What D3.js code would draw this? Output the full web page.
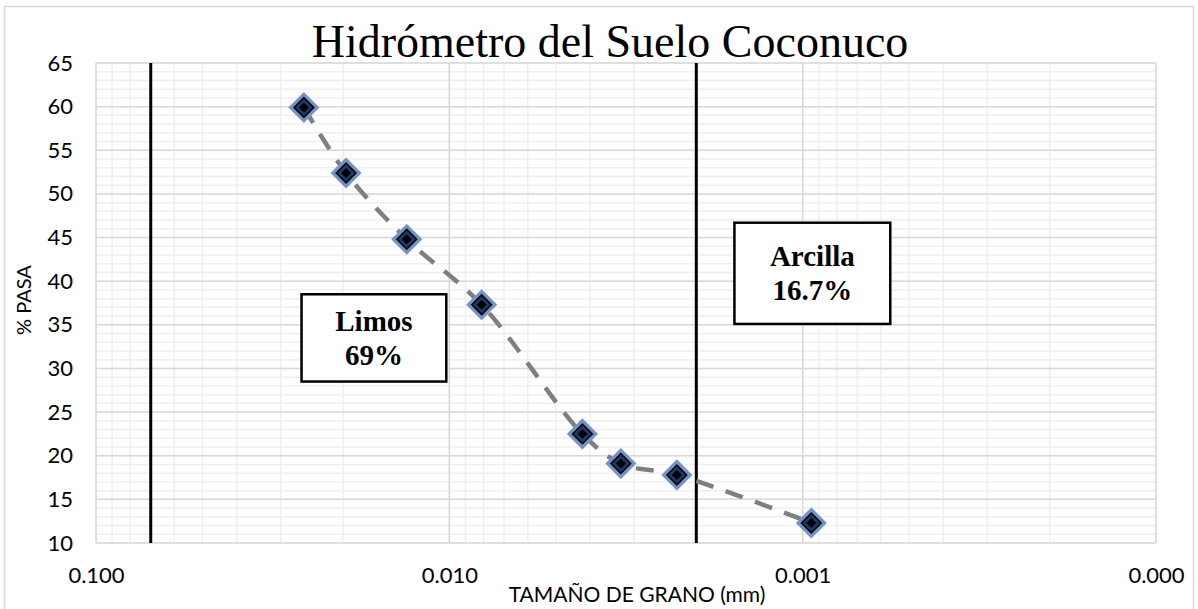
<!DOCTYPE html>
<html>
<head>
<meta charset="utf-8">
<script src="https://cdn.jsdelivr.net/npm/d3@7"></script>
<style>
  body { margin: 0; background: #fff; }
</style>
</head>
<body>
<script>
// grain size (mm) and percent passing
const grainSize = [0.0258, 0.0196, 0.0132, 0.0081, 0.0042, 0.00327, 0.00227, 0.000945];
const pctPassing = [59.9, 52.4, 44.8, 37.3, 22.5, 19.1, 17.8, 12.3];

const xTickValues = [0.1, 0.01, 0.001, 0.0001];
const yTickValues = [10, 15, 20, 25, 30, 35, 40, 45, 50, 55, 60, 65];

// limits between fractions (black vertical lines)
const limitSizes = [0.07, 0.002];

// text boxes: label lines, size span and % span
const boxLines = [["Limos", "69%"], ["Arcilla", "16.7%"]];
const boxSizeSpan = [[0.0262, 0.0102], [0.00156, 0.000565]];
const boxPctSpan = [[38.5, 28.5], [46.7, 35.1]];

function main(){
    const W = 1198, H = 609;
    const left = 96, right = 1156, top = 63, bottom = 543;

    const svg = d3.select("body").append("svg")
        .attr("width", W)
        .attr("height", H);

    // chart area frame
    svg.append("rect")
        .attr("x", 4.5).attr("y", 6.5)
        .attr("width", 1189).attr("height", 620)
        .attr("fill", "#fff")
        .attr("stroke", "#d9d9d9")
        .attr("stroke-width", 1.5);

    const x = d3.scaleLog().domain([0.1, 0.0001]).range([left, right]);
    const y = d3.scaleLinear().domain([10, 65]).range([bottom, top]);

    const grid = svg.append("g");

    // minor grid
    grid.selectAll(".vminor")
        .data(x.ticks())
        .join("line")
        .attr("x1", d => x(d)).attr("x2", d => x(d))
        .attr("y1", top).attr("y2", bottom)
        .attr("stroke", "#efefef").attr("stroke-width", 1.5);

    grid.selectAll(".hminor")
        .data(d3.range(10, 66, 1))
        .join("line")
        .attr("x1", left).attr("x2", right)
        .attr("y1", d => y(d)).attr("y2", d => y(d))
        .attr("stroke", "#efefef").attr("stroke-width", 1.5);

    // major grid
    grid.selectAll(".vmajor")
        .data(xTickValues)
        .join("line")
        .attr("x1", d => x(d)).attr("x2", d => x(d))
        .attr("y1", top).attr("y2", bottom)
        .attr("stroke", "#d9d9d9").attr("stroke-width", 1.5);

    grid.selectAll(".hmajor")
        .data(yTickValues)
        .join("line")
        .attr("x1", left).attr("x2", right)
        .attr("y1", d => y(d)).attr("y2", d => y(d))
        .attr("stroke", "#d9d9d9").attr("stroke-width", 1.5);

    // axes (labels only)
    const xAxis = svg.append("g")
        .attr("transform", "translate(0," + bottom + ")")
        .call(d3.axisBottom(x).tickValues(xTickValues).tickFormat(d3.format(".3f")).tickSize(0).tickPadding(24));
    xAxis.select(".domain").remove();

    const yAxis = svg.append("g")
        .attr("transform", "translate(" + left + ",0)")
        .call(d3.axisLeft(y).tickValues(yTickValues).tickSize(0).tickPadding(23));
    yAxis.select(".domain").remove();

    svg.selectAll(".tick text")
        .attr("font-family", "Lato, sans-serif")
        .attr("font-size", "22px")
        .attr("fill", "#000");

    // fraction limits
    svg.selectAll(".limit")
        .data(limitSizes)
        .join("line")
        .attr("x1", d => x(d)).attr("x2", d => x(d))
        .attr("y1", top).attr("y2", bottom)
        .attr("stroke", "#000").attr("stroke-width", 3);

    // curve
    const pts = grainSize.map((d, i) => ({size: d, pct: pctPassing[i]}));

    svg.append("path")
        .datum(pts)
        .attr("fill", "none")
        .attr("stroke", "#7f7f7f")
        .attr("stroke-width", 4.5)
        .attr("stroke-dasharray", "18,13")
        .attr("d", d3.line()
            .x(d => x(d.size))
            .y(d => y(d.pct))
            .curve(d3.curveCatmullRom));

    // diamond markers
    const sq = s => d3.symbol(d3.symbolSquare, s * s)();
    const mk = svg.selectAll(".marker")
        .data(pts)
        .join("g")
        .attr("transform", d => "translate(" + x(d.size) + "," + y(d.pct) + ") rotate(45)");
    mk.append("path").attr("d", sq(18.5)).attr("fill", "#fff").attr("stroke", "#7393c9").attr("stroke-width", 3.5);
    mk.append("path").attr("d", sq(14)).attr("fill", "#1f3864").attr("stroke", "#000").attr("stroke-width", 1.5);
    mk.append("path").attr("d", sq(7)).attr("fill", "#000");

    // annotation boxes
    const boxes = svg.selectAll(".box")
        .data(boxLines)
        .join("g");
    boxes.append("rect")
        .attr("x", (d, i) => x(boxSizeSpan[i][0]))
        .attr("y", (d, i) => y(boxPctSpan[i][0]))
        .attr("width", (d, i) => x(boxSizeSpan[i][1]) - x(boxSizeSpan[i][0]))
        .attr("height", (d, i) => y(boxPctSpan[i][1]) - y(boxPctSpan[i][0]))
        .attr("fill", "#fff")
        .attr("stroke", "#000")
        .attr("stroke-width", 2.5);
    boxes.each(function(d, i){
        const cx = (x(boxSizeSpan[i][0]) + x(boxSizeSpan[i][1])) / 2;
        const cy = (y(boxPctSpan[i][0]) + y(boxPctSpan[i][1])) / 2;
        d3.select(this).selectAll("text")
            .data(d)
            .join("text")
            .attr("x", cx)
            .attr("y", (t, j) => cy + (j - 0.5) * 34 + 10)
            .attr("text-anchor", "middle")
            .attr("font-family", "'Liberation Serif', serif")
            .attr("font-weight", "bold")
            .attr("font-size", "29px")
            .text(t => t);
    });

    // titles
    svg.append("text")
        .attr("x", 610).attr("y", 57)
        .attr("text-anchor", "middle")
        .attr("font-family", "'Liberation Serif', serif")
        .attr("font-size", "46px")
        .text("Hidrómetro del Suelo Coconuco");

    svg.append("text")
        .attr("transform", "translate(31,300) rotate(-90)")
        .attr("text-anchor", "middle")
        .attr("font-family", "Lato, sans-serif")
        .attr("font-size", "20px")
        .text("% PASA");

    svg.append("text")
        .attr("x", 637).attr("y", 602)
        .attr("text-anchor", "middle")
        .attr("font-family", "Lato, sans-serif")
        .attr("font-size", "21px")
        .text("TAMAÑO DE GRANO (mm)");
}
main();
</script>
</body>
</html>
